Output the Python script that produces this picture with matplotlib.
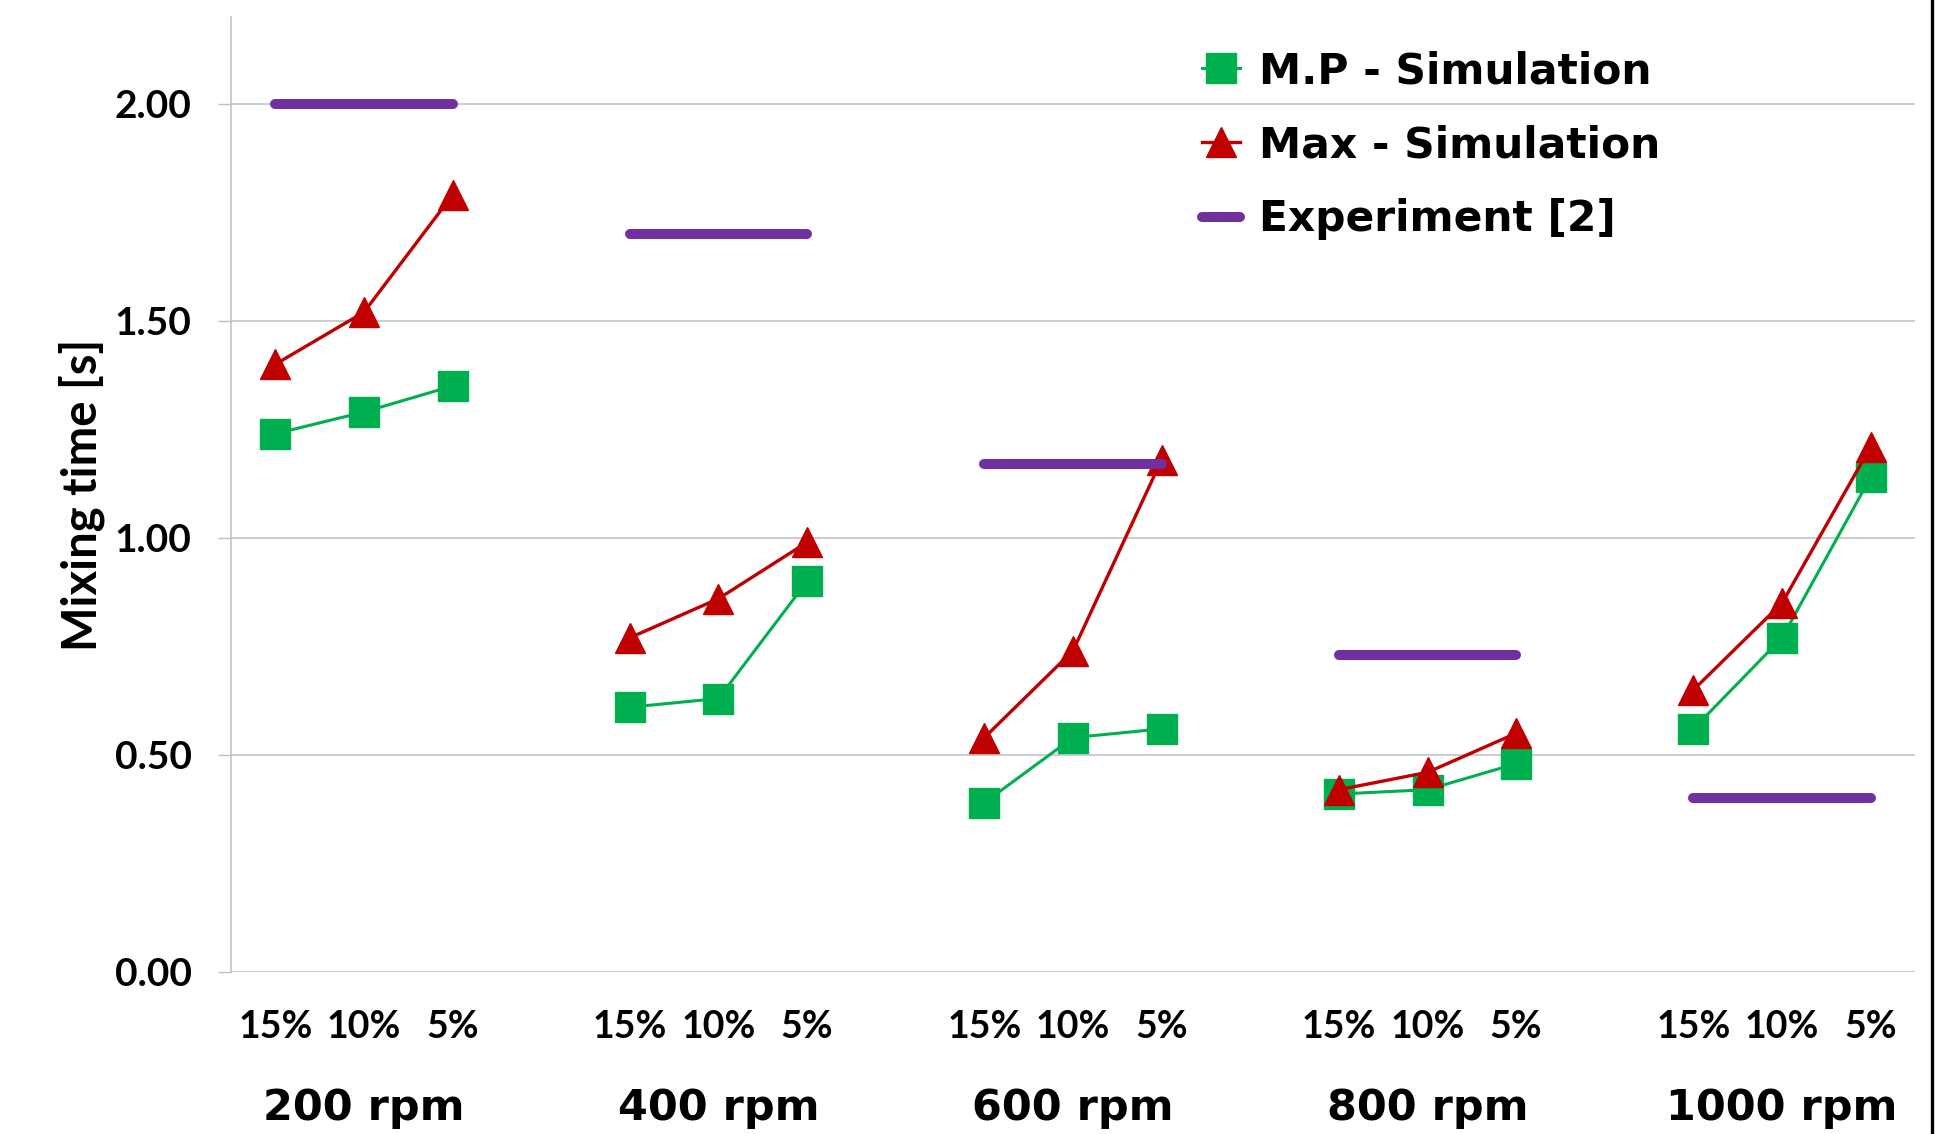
# mixing time vs rpm and tracer %, simulation vs experiment

#%% 1) Import
import numpy as np
import matplotlib.pyplot as plt
from matplotlib.lines import Line2D


#%% 2) Data
rpm_labels = ['200 rpm', '400 rpm', '600 rpm', '800 rpm', '1000 rpm']
pct_labels = ['15%', '10%', '5%']

# M.P - Simulation (15%, 10%, 5% for each rpm)
mp_sim = [1.24, 1.29, 1.35,
          0.61, 0.63, 0.90,
          0.39, 0.54, 0.56,
          0.41, 0.42, 0.48,
          0.56, 0.77, 1.14]
# Max - Simulation
max_sim = [1.40, 1.52, 1.79,
           0.77, 0.86, 0.99,
           0.54, 0.74, 1.18,
           0.42, 0.46, 0.55,
           0.65, 0.85, 1.21]
# Experiment [2], one value per rpm
exp_val = [2.00, 1.70, 1.17, 0.73, 0.40]


#%% 3) Plot
W, H = 1939, 1134
fig = plt.figure(figsize=(W / 100, H / 100), dpi=100)
ax = fig.add_axes([231 / W, 1 - 972 / H, (1915 - 231) / W, (972 - 17) / H])

green = '#00B050'
red = '#C00000'
purple = '#7030A0'
grid_c = '#BFBFBF'

# category slots: 3 points per group, one empty slot between groups
n_grp = len(rpm_labels)
for g in range(n_grp):
    xs = [g * 4 + k for k in range(3)]
    ax.plot(xs, mp_sim[g * 3:g * 3 + 3], color=green, lw=2.2, marker='s', ms=21,
            mfc=green, mec=green, zorder=3, label='M.P - Simulation' if g == 0 else None)
    ax.plot(xs, max_sim[g * 3:g * 3 + 3], color=red, lw=2.4, marker='^', ms=21,
            mfc=red, mec=red, zorder=4, label='Max - Simulation' if g == 0 else None)
    ax.plot([xs[0], xs[-1]], [exp_val[g], exp_val[g]], color=purple, lw=7.2,
            solid_capstyle='round', zorder=5, label='Experiment [2]' if g == 0 else None)

ax.set_xlim(-0.5, n_grp * 4 - 1 - 0.5)
ax.set_ylim(0, 2.2)

# y axis
ax.set_yticks([0, 0.5, 1.0, 1.5, 2.0])
ax.set_yticklabels(['%.2f' % v for v in [0, 0.5, 1.0, 1.5, 2.0]],
                   family='Lato', weight='bold', fontsize=28)
ax.tick_params(axis='y', length=9.4, width=1, color=grid_c, pad=19)
ax.yaxis.grid(True, color=grid_c, lw=1.1)
ax.set_axisbelow(True)

# x axis: % labels as ticks, rpm labels underneath
xt = [g * 4 + k for g in range(n_grp) for k in range(3)]
ax.set_xticks(xt)
ax.set_xticklabels(pct_labels * n_grp, family='Lato', weight='bold', fontsize=27)
ax.tick_params(axis='x', length=0, pad=27)
for g in range(n_grp):
    ax.text(g * 4 + 1, -0.142, rpm_labels[g], transform=ax.get_xaxis_transform(),
            ha='center', va='center', fontsize=31, weight='bold', family='DejaVu Sans')

for s in ['top', 'right', 'bottom']:
    ax.spines[s].set_visible(False)
ax.spines['left'].set_color(grid_c)
ax.spines['left'].set_linewidth(1.1)

fig.text(82 / W, 1 - 495 / H, 'Mixing time [s]', rotation=90, ha='center', va='center',
         family='Lato', weight='bold', fontsize=34)

leg = ax.legend(loc='upper left', bbox_to_anchor=(1202 / W, 1 - 50 / H),
                bbox_transform=fig.transFigure, frameon=False, borderpad=0,
                borderaxespad=0, handlelength=0.9, handletextpad=0.45,
                labelspacing=0.76, prop={'family': 'DejaVu Sans', 'weight': 'bold', 'size': 30.5})

# dark border line at the right edge of the picture
fig.add_artist(Line2D([1932 / W, 1932 / W], [0, 1], color='black', lw=2.4,
                      transform=fig.transFigure))

fig.savefig('out.png', dpi=100, facecolor='white')
